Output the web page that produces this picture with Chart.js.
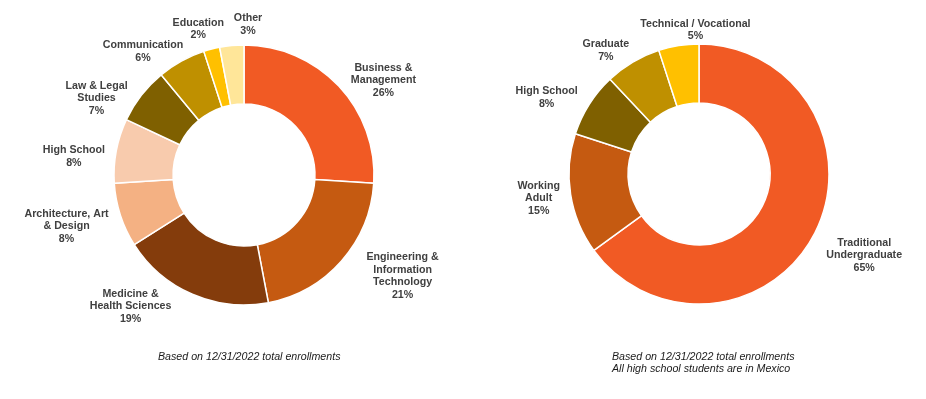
<!DOCTYPE html>
<html><head><meta charset="utf-8">
<script src="https://cdn.jsdelivr.net/npm/chart.js@4"></script>
<style>
html,body{margin:0;padding:0;background:#fff;width:926px;height:399px;overflow:hidden;}
#wrap{position:relative;width:926px;height:399px;}
.box{position:absolute;top:0;height:399px;width:463px;}
.note{position:absolute;font:italic 10.67px "Liberation Sans",Arial,sans-serif;color:#1a1a1a;line-height:12px;white-space:nowrap;}
</style></head><body>
<div id="wrap">
<div class="box" style="left:0"><canvas id="c1"></canvas></div>
<div class="box" style="left:463px"><canvas id="c2"></canvas></div>
<div class="note" style="left:158px;top:350px;">Based on 12/31/2022 total enrollments</div>
<div class="note" style="left:612px;top:350px;">Based on 12/31/2022 total enrollments<br>All high school students are in Mexico</div>
</div>
<script>
// ---- data ----
const fieldCategories = [
  ['Business &','Management'],
  ['Engineering &','Information','Technology'],
  ['Medicine &','Health Sciences'],
  ['Architecture, Art','& Design'],
  ['High School'],
  ['Law & Legal','Studies'],
  ['Communication'],
  ['Education'],
  ['Other']
];
const fieldValues = [26,21,19,8,8,7,6,2,3];
const fieldColors = ['#F15A24','#C55A11','#843C0C','#F4B183','#F8CBAD','#7F6000','#BF9000','#FFC000','#FFE699'];

const studentCategories = [
  ['Traditional','Undergraduate'],
  ['Working','Adult'],
  ['High School'],
  ['Graduate'],
  ['Technical / Vocational']
];
const studentValues = [65,15,8,7,5];
const studentColors = ['#F15A24','#C55A11','#7F6000','#BF9000','#FFC000'];

// label nudges (px) relative to computed outside position
const fieldNudges = [[18,10],[31,-4],[-44,-9],[-10,4],[-8,9],[-17,17],[-17,5],[-6,-4],[18,-4.5]];
const studentNudges = [[12,12],[-7,0.5],[-13,2],[-13,2.5],[26,1]];

const labelPlugin = {
  id:'outLabels',
  afterDatasetsDraw(chart, args, opts){
    const ctx = chart.ctx;
    const meta = chart.getDatasetMeta(0);
    const ds = chart.data.datasets[0];
    ctx.save();
    ctx.font = 'bold 10.67px "Liberation Sans", Arial, sans-serif';
    ctx.fillStyle = '#404040';
    ctx.textAlign = 'center';
    ctx.textBaseline = 'middle';
    const lh = 12.5, gap = 4;
    meta.data.forEach((arc,i)=>{
      const lines = [].concat(chart.data.labels[i], ds.data[i] + '%');
      const w = Math.max(...lines.map(l=>ctx.measureText(l).width));
      const h = lines.length*lh;
      const mid = (arc.startAngle + arc.endAngle)/2;
      const dx = Math.cos(mid), dy = Math.sin(mid);
      const R = arc.outerRadius + gap;
      const n = (opts.nudges && opts.nudges[i]) || [0,0];
      const cx = arc.x + dx*R + dx*w/2 + n[0];
      const cy = arc.y + dy*R + dy*h/2 + n[1];
      lines.forEach((l,j)=>ctx.fillText(l, cx, cy - h/2 + lh*(j+0.5)));
    });
    ctx.restore();
  }
};

function makeChart(id, cats, vals, colors, padding, nudges){
  return new Chart(document.getElementById(id), {
    type:'doughnut',
    data:{labels:cats, datasets:[{data:vals, backgroundColor:colors, borderColor:'#ffffff', borderWidth:1.5, hoverOffset:0}]},
    options:{
      responsive:true, maintainAspectRatio:false, animation:false,
      radius:130, cutout:'54.6%',
      layout:{padding:padding},
      plugins:{legend:{display:false}, tooltip:{enabled:false}, outLabels:{nudges:nudges}}
    },
    plugins:[labelPlugin]
  });
}
makeChart('c1', fieldCategories, fieldValues, fieldColors, {left:25,right:0,top:0,bottom:49}, fieldNudges);
makeChart('c2', studentCategories, studentValues, studentColors, {left:9,right:0,top:0,bottom:51}, studentNudges);
</script>
</body></html>
